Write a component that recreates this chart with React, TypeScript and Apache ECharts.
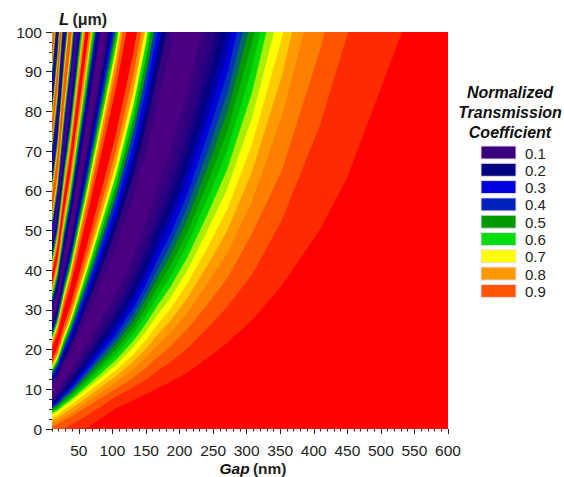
import React, { useEffect, useRef } from "react";
import * as echarts from "echarts";

const FONT = "Liberation Sans, Arial, sans-serif";

const gapRows = [10, 18, 28, 37, 47, 62, 86, 105, 131, 150, 168, 185, 211, 241, 271, 308, 352, 410, 450, 530, 600];

// First slope, from the red corner up to the widest dark band.
const slope1 = [
  [0, 0, 0, 0, 0, 0.3, 3.0, 5.2, 7.3, 8.8, 10.4, 11.8, 14.2, 17.8, 21.7, 27.5, 36.0, 50.5, 63.5, 99.4, 129.6],
  [0, 0, 0.1, 1.0, 1.9, 3.4, 6.0, 8.2, 10.5, 12.5, 14.8, 16.7, 20.3, 25.4, 30.8, 38.9, 52.5, 77.0, 99.4, 141.5],
  [0.6, 1.2, 2.2, 3.0, 4.0, 5.6, 8.2, 10.1, 12.9, 15.4, 18.2, 20.6, 25.1, 31.3, 38.0, 49.3, 65.0, 96.0, 122.7],
  [1.4, 2.0, 3.0, 3.9, 5.0, 6.8, 9.6, 11.8, 15.0, 18.0, 21.2, 24.0, 29.2, 36.5, 44.3, 57.5, 78.6, 115.6],
  [2.2, 2.8, 4.0, 5.0, 6.1, 8.0, 11.0, 13.3, 17.0, 20.3, 24.0, 27.0, 32.9, 41.1, 50.0, 64.9, 88.8, 130.5],
  [3.0, 3.6, 5.0, 6.0, 7.2, 9.2, 12.3, 14.8, 18.8, 22.5, 26.6, 30.0, 36.5, 45.6, 55.4, 71.8, 98.4, 144.0],
  [3.8, 4.5, 5.8, 6.7, 8.1, 10.1, 13.4, 16.1, 20.6, 24.6, 29.0, 32.7, 39.8, 49.8, 60.5, 78.5, 107.4],
  [4.1, 4.8, 6.2, 7.3, 8.7, 10.9, 14.5, 17.4, 22.2, 26.6, 31.4, 35.5, 43.1, 53.9, 65.5, 84.9, 116.2],
  [4.4, 5.2, 6.7, 7.8, 9.4, 11.7, 15.6, 18.7, 23.9, 28.5, 33.7, 38.0, 46.3, 57.8, 70.2, 91.1, 124.8],
  [4.8, 5.6, 7.2, 8.4, 10.0, 12.5, 16.7, 20.0, 25.5, 30.5, 36.0, 40.7, 49.4, 61.8, 75.0, 97.4, 131.0],
  [5.1, 5.9, 7.6, 8.9, 10.6, 13.3, 17.7, 21.3, 27.1, 32.5, 38.3, 43.3, 52.6, 65.7, 79.9, 103.6],
  [5.4, 6.3, 8.1, 9.4, 11.3, 14.1, 18.8, 22.6, 28.8, 34.4, 40.6, 45.9, 55.8, 69.6, 84.6, 109.8],
  [5.7, 6.6, 8.5, 10.0, 11.9, 14.9, 19.9, 23.9, 30.4, 36.4, 43.0, 48.6, 59.0, 73.7, 89.6, 116.3],
  [6.0, 7.0, 9.0, 10.5, 12.6, 15.8, 21.0, 25.2, 32.2, 38.5, 45.4, 51.4, 62.4, 77.9, 94.7, 122.9],
  [6.3, 7.4, 9.5, 11.1, 13.3, 16.7, 22.2, 26.7, 34.0, 40.7, 48.0, 54.3, 66.0, 82.4, 100.1],
  [6.7, 7.8, 10.1, 11.8, 14.1, 17.6, 23.5, 28.2, 36.0, 43.0, 50.8, 57.3, 69.7, 87.1, 105.8],
  [7.1, 8.3, 10.7, 12.5, 14.9, 18.7, 24.9, 29.9, 38.1, 45.6, 53.8, 60.8, 73.8, 92.2, 112.1],
  [7.6, 8.8, 11.4, 13.3, 15.9, 19.9, 26.5, 31.8, 40.5, 48.5, 57.2, 64.7, 78.6, 98.2, 119.0],
  [8.1, 9.5, 12.2, 14.3, 17.1, 21.4, 28.5, 34.2, 43.7, 52.2, 61.6, 69.6, 84.7, 105.7],
];
const slope1Colors = ["#ff2a00", "#ff5500", "#ff7f00", "#ff9a00", "#ffcc00", "#ffff00", "#aaee00", "#00dd00", "#00bb00", "#009900", "#006666", "#0033bb", "#0000dd", "#0000aa", "#000080", "#1a0080", "#2c0080", "#38007f", "#4b0082"];

// Second slope, dark band to the red ridge.
const slope2 = [
  [10.9, 12.7, 16.4, 19.1, 22.9, 28.6, 38.1, 45.8, 58.3, 69.8, 82.4, 95.0, 117.8],
  [11.9, 13.9, 17.9, 20.9, 25.1, 31.3, 41.7, 50.1, 63.9, 76.4, 90.2, 104.0],
  [12.7, 14.8, 19.1, 22.3, 26.7, 33.3, 44.4, 53.3, 68.0, 81.3, 96.0, 110.6],
  [13.3, 15.6, 20.1, 23.4, 28.1, 35.1, 46.7, 56.1, 71.6, 85.6, 101.0],
  [13.9, 16.3, 21.0, 24.5, 29.4, 36.7, 48.9, 58.7, 74.9, 89.5, 105.7],
  [14.6, 17.0, 21.9, 25.6, 30.6, 38.3, 51.0, 61.3, 78.1, 93.5, 110.3],
  [15.2, 17.7, 22.8, 26.7, 31.9, 39.9, 53.2, 63.9, 81.4, 97.4, 115.0],
  [15.8, 18.5, 23.8, 27.8, 33.3, 41.7, 55.5, 66.7, 85.0, 101.7],
  [16.6, 19.4, 25.0, 29.2, 34.9, 43.7, 58.2, 69.9, 89.1, 106.6],
  [17.6, 20.6, 26.5, 31.0, 37.1, 46.4, 61.8, 74.2, 94.7, 113.2],
];
const slope2Colors = ["#38007f", "#000080", "#0000dd", "#0033bb", "#009900", "#00dd00", "#ffff00", "#ff9900", "#ff5500", "#ff0000"];

// Third slope, red ridge to the next dark band.
const slope3 = [
  [20.4, 23.8, 30.7, 35.8, 42.9, 53.6, 71.4, 85.8, 109.3],
  [21.4, 25.0, 32.2, 37.6, 45.1, 56.3, 75.0, 90.1, 114.9],
  [22.2, 25.9, 33.4, 39.0, 46.7, 58.3, 77.7, 93.3, 119.0],
  [22.8, 26.7, 34.4, 40.1, 48.1, 60.1, 80.0, 96.1, 122.6],
  [23.4, 27.4, 35.3, 41.2, 49.4, 61.7, 82.2, 98.7, 125.9],
  [24.1, 28.1, 36.2, 42.3, 50.6, 63.3, 84.3, 101.3],
  [24.7, 28.8, 37.1, 43.4, 51.9, 64.9, 86.5, 103.9],
  [25.3, 29.6, 38.1, 44.5, 53.3, 66.7, 88.8, 106.7],
  [26.1, 30.5, 39.3, 45.9, 54.9, 68.7, 91.5, 109.9],
  [27.1, 31.7, 40.8, 47.7, 57.1, 71.4, 95.1, 114.2],
];
const slope3Colors = ["#ff5500", "#ff9900", "#ffff00", "#00dd00", "#009900", "#0033bb", "#0000dd", "#000080", "#38007f", "#4b0082"];

const slope4 = [
  [29.9, 34.9, 45.0, 52.5, 62.9, 78.6, 104.7],
  [31.3, 36.6, 47.1, 55.0, 65.9, 82.4, 109.7],
  [32.3, 37.8, 48.7, 56.8, 68.1, 85.1, 113.3],
  [33.3, 38.9, 50.1, 58.5, 70.0, 87.5, 116.6],
  [34.2, 39.9, 51.4, 60.1, 71.9, 89.9, 119.8],
  [35.2, 41.1, 53.0, 61.9, 74.1, 92.6, 123.4],
  [36.6, 42.8, 55.1, 64.4, 77.1, 96.4, 128.4],
];
const slope4Colors = ["#100080", "#0000dd", "#009900", "#00dd00", "#ffd000", "#ff7f00", "#ff0000"];

const slope5 = [
  [39.4, 46.0, 59.3, 69.2, 82.9, 103.6],
  [40.8, 47.7, 61.4, 71.7, 85.9, 107.4],
  [41.8, 48.9, 63.0, 73.5, 88.1, 110.1],
  [42.8, 50.0, 64.4, 75.2, 90.0, 112.5],
  [43.7, 51.0, 65.7, 76.8, 91.9, 114.9],
  [44.7, 52.2, 67.3, 78.6, 94.1, 117.6],
  [46.1, 53.9, 69.4, 81.1, 97.1, 121.4],
];
const slope5Colors = ["#ff7f00", "#ffd000", "#00dd00", "#009900", "#0000dd", "#100080", "#4b0082"];

// The narrow stripes by the left edge.
const stripeRise = ["#0000dd", "#00aa00", "#ffd000", "#ff5500"];
const stripeFall = ["#ffd000", "#00aa00", "#0000dd", "#2a0080"];
const slope6 = [
  [49.4, 57.8, 74.4, 86.9, 104.1],
  [51.3, 59.9, 77.2, 90.2, 108.0],
  [52.9, 61.8, 79.7, 93.0, 111.4],
  [54.6, 63.8, 82.2, 96.0, 115.0],
];
const slope7 = [
  [59.4, 69.4, 89.4, 104.4],
  [61.1, 71.4, 91.9, 107.4],
  [62.7, 73.3, 94.4, 110.2],
  [64.6, 75.4, 97.2, 113.5],
];
const slope8 = [
  [68.4, 80.0, 103.0],
  [70.3, 82.1, 105.8],
  [71.9, 84.0, 108.3],
  [73.6, 86.0, 110.8],
];
const slope9 = [
  [78.4, 91.6, 118.0],
  [80.1, 93.6, 120.5],
  [81.7, 95.5, 123.0],
  [83.6, 97.6, 125.8],
];
const slope10 = [
  [87.4, 102.2],
  [89.3, 104.3],
  [90.9, 106.2],
  [92.6, 108.2],
];
const slope11 = [
  [97.4, 113.8],
  [99.1, 115.8],
];

const xLabels = [50, 100, 150, 200, 250, 300, 350, 400, 450, 500, 550, 600];
const legendTitle = ["Normalized", "Transmission", "Coefficient"];
const legendLabels = ["0.1", "0.2", "0.3", "0.4", "0.5", "0.6", "0.7", "0.8", "0.9"];
const legendColors = ["#38007f", "#000080", "#0000dd", "#0022bb", "#009900", "#00dd00", "#ffff00", "#ff9900", "#ff5500"];

const layers: [number[][], string[]][] = [
  [slope1, slope1Colors],
  [slope2, slope2Colors],
  [slope3, slope3Colors],
  [slope4, slope4Colors],
  [slope5, slope5Colors],
  [slope6, stripeRise],
  [slope7, stripeFall],
  [slope8, stripeRise],
  [slope9, stripeFall],
  [slope10, stripeRise],
  [slope11, stripeFall],
];
const contours = layers.flatMap(([rows, colors]) => rows.map((row, i) => ({ row, color: colors[i] })));

const tickColor = "#222";

export default function App() {
  const ref = useRef<HTMLDivElement>(null);
  useEffect(() => {
    const chart = echarts.init(ref.current!, undefined, { renderer: "svg" });
    const legendItems: any[] = [];
    legendTitle.forEach((t, i) =>
      legendItems.push({
        type: "text",
        x: 510,
        y: 92 + i * 20,
        style: { text: t, fill: "#111", font: `italic bold 16px ${FONT}`, align: "center", verticalAlign: "middle" },
      })
    );
    legendLabels.forEach((t, i) => {
      legendItems.push({
        type: "rect",
        shape: { x: 481, y: 146 + i * 17.3, width: 35, height: 13 },
        style: { fill: legendColors[i], stroke: "#e6dcee", lineWidth: 1 },
      });
      legendItems.push({
        type: "text",
        x: 525,
        y: 153 + i * 17.3,
        style: { text: t, fill: "#222", font: `15px ${FONT}`, align: "left", verticalAlign: "middle" },
      });
    });
    legendItems.push({
      type: "text",
      x: 59,
      y: 19,
      style: {
        text: "{a|L} {b|(\u03bcm)}",
        verticalAlign: "middle",
        rich: {
          a: { font: `italic bold 16.5px ${FONT}`, fill: "#111" },
          b: { font: `bold 16px ${FONT}`, fill: "#222" },
        },
      },
    });
    legendItems.push({
      type: "text",
      x: 253,
      y: 468,
      style: {
        text: "{a|Gap} {b|(nm)}",
        align: "center",
        verticalAlign: "middle",
        rich: {
          a: { font: `italic bold 15.5px ${FONT}`, fill: "#111" },
          b: { font: `bold 15.5px ${FONT}`, fill: "#222" },
        },
      },
    });

    const labelStyle = { color: "#222", fontFamily: FONT, fontSize: 15.5 };
    chart.setOption({
      animation: false,
      grid: { left: 52, right: 116, top: 32, bottom: 48, show: true, backgroundColor: "#ff0000", borderWidth: 0 },
      xAxis: [
        {
          type: "value",
          min: 10,
          max: 600,
          interval: 10,
          splitLine: { show: false },
          axisLine: { show: false },
          axisTick: { show: true, length: 2.5, lineStyle: { color: tickColor } },
          axisLabel: { ...labelStyle, margin: 13, customValues: xLabels, hideOverlap: false },
        },
        {
          type: "value",
          position: "bottom",
          min: 10,
          max: 600,
          interval: 10,
          splitLine: { show: false },
          axisLine: { show: false },
          axisLabel: { show: false },
          axisTick: { show: true, length: 5, customValues: xLabels, lineStyle: { color: tickColor } },
        },
      ],
      yAxis: {
        type: "value",
        min: 0,
        max: 100,
        interval: 10,
        splitLine: { show: false },
        axisLine: { show: false },
        axisTick: { show: true, length: 6, lineStyle: { color: tickColor } },
        minorTick: { show: true, splitNumber: 4, length: 3, lineStyle: { color: tickColor } },
        axisLabel: { ...labelStyle, margin: 10 },
      },
      series: [
        {
          type: "custom",
          clip: true,
          silent: true,
          xAxisIndex: 0,
          yAxisIndex: 0,
          data: contours.map((_, i) => [10, 0, i]),
          encode: { x: 0, y: 1 },
          renderItem: (_: any, api: any) => {
            const c = contours[api.value(2)];
            const pts = c.row.map((L, j) => api.coord([gapRows[j], L]));
            const lastGap = gapRows[c.row.length - 1];
            pts.push(api.coord([lastGap, 300]));
            pts.push(api.coord([10, 300]));
            return { type: "polygon", shape: { points: pts }, style: { fill: c.color, stroke: c.color, lineWidth: 0.3 } };
          },
        },
      ],
      graphic: legendItems,
    });
    return () => chart.dispose();
  }, []);
  return <div ref={ref} style={{ position: "absolute", left: 0, top: 0, width: 564, height: 477, background: "#fff" }} />;
}
